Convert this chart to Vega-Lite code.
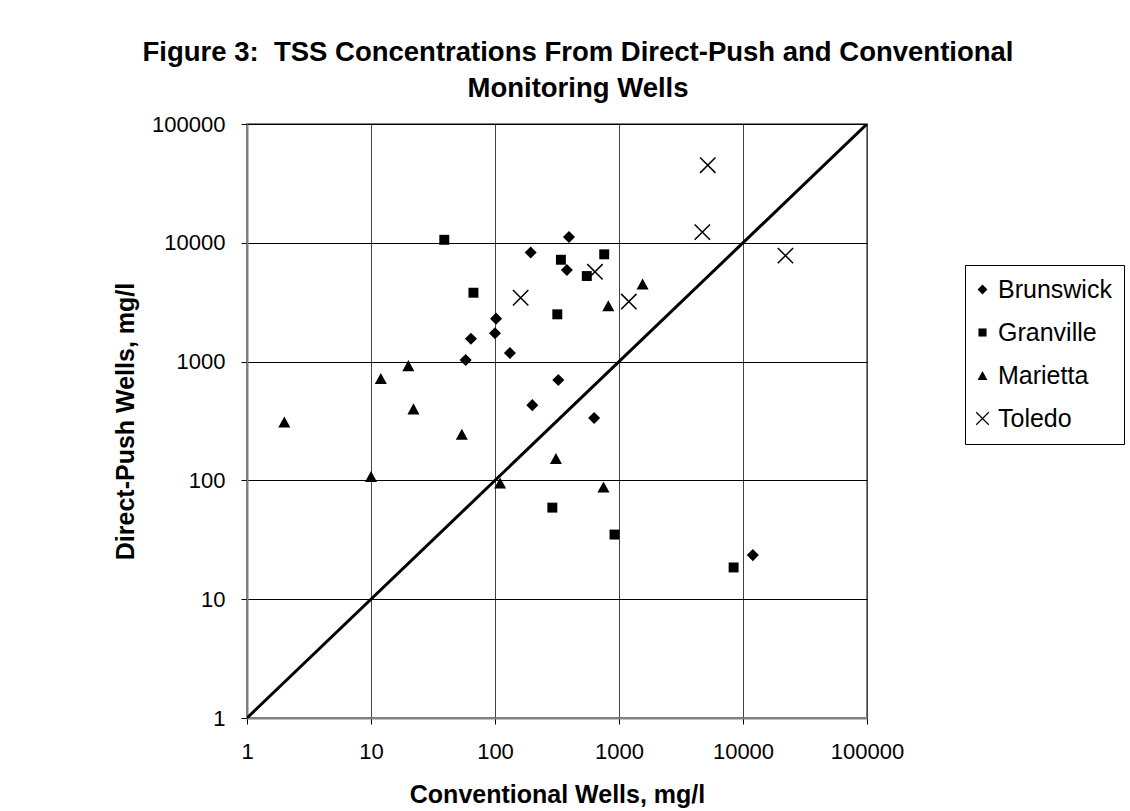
{
  "$schema": "https://vega.github.io/schema/vega-lite/v6.json",
  "width": 620,
  "height": 594,
  "autosize": {"type": "none"},
  "padding": {"left": 247, "top": 124, "right": 263, "bottom": 93},
  "background": "white",
  "title": {
    "text": ["Figure 3:\u00a0 TSS Concentrations From Direct-Push and Conventional", "Monitoring Wells"],
    "font": "Liberation Sans",
    "fontSize": 27.5,
    "fontWeight": "bold",
    "color": "black",
    "anchor": "middle",
    "baseline": "bottom",
    "dx": 21,
    "offset": -17,
    "lineHeight": 36
  },
  "config": {
    "font": "Liberation Sans",
    "view": {"stroke": "#808080", "strokeWidth": 2}
  },
  "layer": [
    {
      "data": {"values": [{"conv": 1, "dp": 1}, {"conv": 100000, "dp": 100000}]},
      "mark": {"type": "line", "color": "black", "strokeWidth": 3, "clip": true},
      "encoding": {
        "x": {
          "field": "conv", "type": "quantitative",
          "scale": {"type": "log", "domain": [1, 100000], "nice": false},
          "axis": {
            "values": [1, 10, 100, 1000, 10000, 100000],
            "format": "d",
            "labelFont": "Liberation Sans",
            "labelFontSize": 22,
            "labelColor": "black",
            "labelFlush": false,
            "labelOverlap": false,
            "labelPadding": 17,
            "tickColor": "black",
            "tickSize": 6,
            "domainColor": "#808080",
            "domainWidth": 2,
            "gridColor": "#444444",
            "gridWidth": 1,
            "gridOpacity": 1,
            "title": "Conventional Wells, mg/l",
            "titleFont": "Liberation Sans",
            "titleFontSize": 25,
            "titleFontWeight": "bold",
            "titleColor": "black",
            "titlePadding": 20
          }
        },
        "y": {
          "field": "dp", "type": "quantitative",
          "scale": {"type": "log", "domain": [1, 100000], "nice": false},
          "axis": {
            "values": [1, 10, 100, 1000, 10000, 100000],
            "format": "d",
            "labelFont": "Liberation Sans",
            "labelFontSize": 22,
            "labelColor": "black",
            "labelFlush": false,
            "labelOverlap": false,
            "labelPadding": 16,
            "tickColor": "black",
            "tickSize": 6,
            "domainColor": "#808080",
            "domainWidth": 2,
            "gridColor": "black",
            "gridWidth": 1,
            "gridOpacity": 1,
            "title": "Direct-Push Wells, mg/l",
            "titleFont": "Liberation Sans",
            "titleFontSize": 25,
            "titleFontWeight": "bold",
            "titleColor": "black",
            "titlePadding": 13
          }
        }
      }
    },
    {
      "data": {
        "values": [
          {"site": "Brunswick", "conv": 194, "dp": 8300},
          {"site": "Brunswick", "conv": 102, "dp": 2300},
          {"site": "Brunswick", "conv": 64, "dp": 1560},
          {"site": "Brunswick", "conv": 100, "dp": 1730},
          {"site": "Brunswick", "conv": 132, "dp": 1180},
          {"site": "Brunswick", "conv": 58, "dp": 1030},
          {"site": "Brunswick", "conv": 324, "dp": 700},
          {"site": "Brunswick", "conv": 200, "dp": 430},
          {"site": "Brunswick", "conv": 395, "dp": 11200},
          {"site": "Brunswick", "conv": 380, "dp": 5900},
          {"site": "Brunswick", "conv": 630, "dp": 335},
          {"site": "Brunswick", "conv": 12000, "dp": 23.5},
          {"site": "Granville", "conv": 39, "dp": 10600},
          {"site": "Granville", "conv": 340, "dp": 7200},
          {"site": "Granville", "conv": 67, "dp": 3800},
          {"site": "Granville", "conv": 318, "dp": 2500},
          {"site": "Granville", "conv": 760, "dp": 8000},
          {"site": "Granville", "conv": 550, "dp": 5250},
          {"site": "Granville", "conv": 290, "dp": 59},
          {"site": "Granville", "conv": 920, "dp": 35},
          {"site": "Granville", "conv": 8400, "dp": 18.5},
          {"site": "Marietta", "conv": 20, "dp": 925},
          {"site": "Marietta", "conv": 12, "dp": 720},
          {"site": "Marietta", "conv": 22, "dp": 400},
          {"site": "Marietta", "conv": 2, "dp": 310},
          {"site": "Marietta", "conv": 54, "dp": 245},
          {"site": "Marietta", "conv": 1550, "dp": 4500},
          {"site": "Marietta", "conv": 820, "dp": 2950},
          {"site": "Marietta", "conv": 10, "dp": 108},
          {"site": "Marietta", "conv": 110, "dp": 95},
          {"site": "Marietta", "conv": 310, "dp": 153},
          {"site": "Marietta", "conv": 750, "dp": 88},
          {"site": "Toledo", "conv": 161, "dp": 3450},
          {"site": "Toledo", "conv": 5200, "dp": 45000},
          {"site": "Toledo", "conv": 4700, "dp": 12300},
          {"site": "Toledo", "conv": 22000, "dp": 7800},
          {"site": "Toledo", "conv": 640, "dp": 5700},
          {"site": "Toledo", "conv": 1200, "dp": 3200}
        ]
      },
      "mark": {"type": "point", "filled": true, "fill": "black", "strokeWidth": 0, "size": 196, "opacity": 1},
      "encoding": {
        "x": {"field": "conv", "type": "quantitative"},
        "y": {"field": "dp", "type": "quantitative"},
        "shape": {
          "field": "site", "type": "nominal",
          "scale": {
            "domain": ["Brunswick", "Granville", "Marietta", "Toledo"],
            "range": [
              "M0,-0.86L0.86,0L0,0.86L-0.86,0Z",
              "M-0.71,-0.71L0.71,-0.71L0.71,0.71L-0.71,0.71Z",
              "M0,-0.79L0.86,0.79L-0.86,0.79Z",
              "M-1.024,-1.176L1.176,1.024L1.024,1.176L-1.176,-1.024ZM-1.024,1.176L-1.176,1.024L1.024,-1.176L1.176,-1.024Z"
            ]
          },
          "legend": {
            "title": null,
            "orient": "none",
            "legendX": 718,
            "legendY": 141,
            "strokeColor": "black",
            "fillColor": "white",
            "padding": 12,
            "labelFont": "Liberation Sans",
            "labelFontSize": 25,
            "labelColor": "black",
            "labelOffset": 3,
            "symbolSize": 130,
            "symbolOffset": -7,
            "symbolFillColor": "black",
            "symbolStrokeWidth": 0,
            "rowPadding": 17,
            "encode": {
              "symbols": {"update": {"fill": {"value": "black"}, "opacity": {"value": 1}}}
            }
          }
        }
      }
    }
  ]
}
